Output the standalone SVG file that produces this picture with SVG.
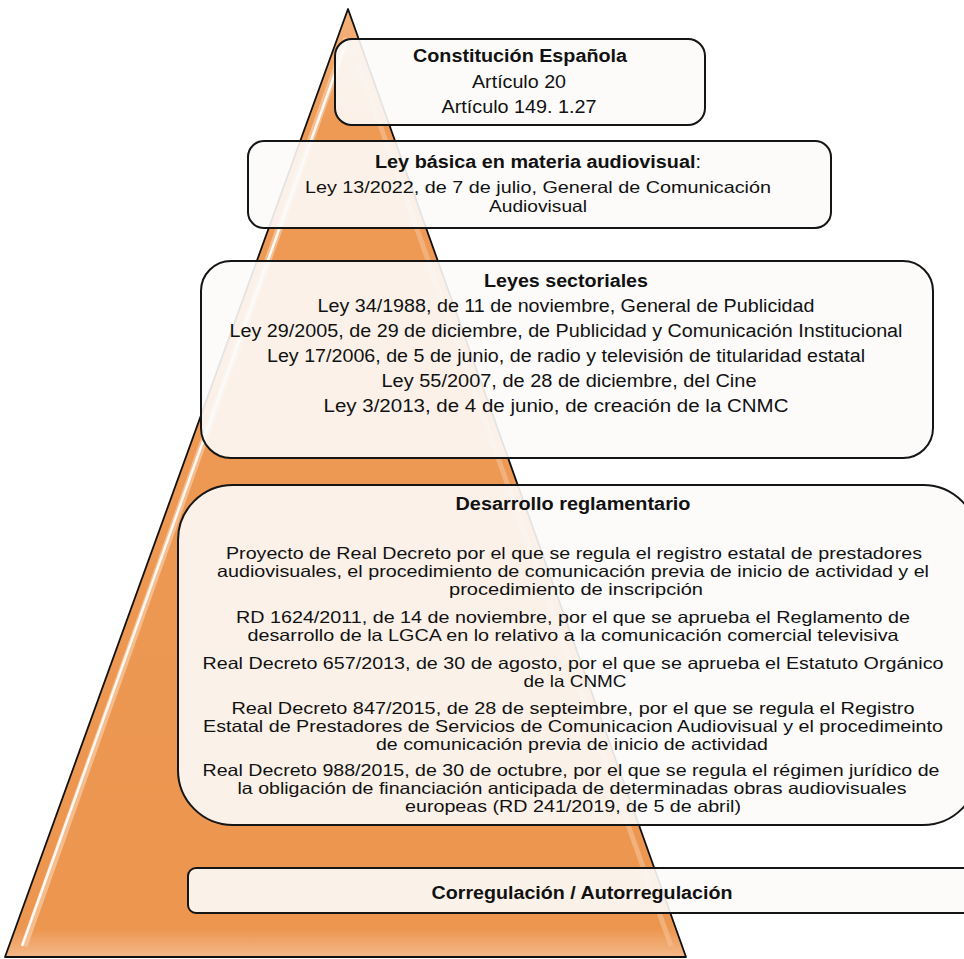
<svg xmlns="http://www.w3.org/2000/svg" width="964" height="959" viewBox="0 0 964 959">
<defs>
<linearGradient id="tri" x1="0" y1="0" x2="0" y2="1">
<stop offset="0" stop-color="#F4B27C"/>
<stop offset="0.12" stop-color="#EE9A55"/>
<stop offset="0.97" stop-color="#EC9650"/>
<stop offset="1" stop-color="#F3B888"/>
</linearGradient>
<style>
.box{fill:#FCFBFA;fill-opacity:0.9;stroke:#151515;stroke-width:2}
text{font-family:"Liberation Sans",Arial,sans-serif;font-size:18px;fill:#111;text-anchor:middle}
.b{font-weight:bold}
.s{font-size:16.5px}
</style>
</defs>
<rect width="964" height="959" fill="#FFFFFF"/>
<g id="pyramid">
<polygon points="348,9 686,957 5,957" fill="url(#tri)" stroke="#111" stroke-width="1.8" stroke-linejoin="round"/>
<line x1="347" y1="38" x2="24" y2="946" stroke="#F6C79E" stroke-width="7" opacity="0.8"/>
<line x1="347" y1="40" x2="22" y2="946" stroke="#FFFFFF" stroke-width="2.5" opacity="0.9"/>
<line x1="350" y1="40" x2="671" y2="946" stroke="#F5BC8E" stroke-width="5" opacity="0.7"/>
</g>
<g id="connectors"></g>
<g id="n1">
<rect class="box" x="335" y="39" width="370" height="86" rx="17"/>
<text class="b" x="520" y="62" textLength="214" lengthAdjust="spacingAndGlyphs">Constitución Española</text>
<text x="519" y="88" textLength="94" lengthAdjust="spacingAndGlyphs">Artículo 20</text>
<text x="519" y="113" textLength="155" lengthAdjust="spacingAndGlyphs">Artículo 149. 1.27</text>
</g>
<g id="n2">
<rect class="box" x="248" y="141" width="583" height="87" rx="16"/>
<text x="538" y="168" textLength="326" lengthAdjust="spacingAndGlyphs"><tspan class="b">Ley básica en materia audiovisual</tspan>:</text>
<text class="s" x="538" y="193" textLength="466" lengthAdjust="spacingAndGlyphs">Ley 13/2022, de 7 de julio, General de Comunicación</text>
<text class="s" x="538" y="212" textLength="98" lengthAdjust="spacingAndGlyphs">Audiovisual</text>
</g>
<g id="n3">
<rect class="box" x="201" y="261" width="732" height="197" rx="30"/>
<text class="b" x="566" y="287" textLength="164" lengthAdjust="spacingAndGlyphs">Leyes sectoriales</text>
<text x="566" y="312" textLength="497" lengthAdjust="spacingAndGlyphs">Ley 34/1988, de 11 de noviembre, General de Publicidad</text>
<text x="566" y="337" textLength="673" lengthAdjust="spacingAndGlyphs">Ley 29/2005, de 29 de diciembre, de Publicidad y Comunicación Institucional</text>
<text x="566" y="362" textLength="598" lengthAdjust="spacingAndGlyphs">Ley 17/2006, de 5 de junio, de radio y televisión de titularidad estatal</text>
<text x="569" y="387" textLength="375" lengthAdjust="spacingAndGlyphs">Ley 55/2007, de 28 de diciembre, del Cine</text>
<text x="556" y="412" textLength="465" lengthAdjust="spacingAndGlyphs">Ley 3/2013, de 4 de junio, de creación de la CNMC</text>
</g>
<g id="n4">
<rect class="box" x="178" y="485" width="800" height="340" rx="55"/>
<text class="b" x="573" y="510" textLength="235" lengthAdjust="spacingAndGlyphs">Desarrollo reglamentario</text>
<text class="s" x="574" y="559" textLength="696" lengthAdjust="spacingAndGlyphs">Proyecto de Real Decreto por el que se regula el registro estatal de prestadores</text>
<text class="s" x="573" y="577" textLength="712" lengthAdjust="spacingAndGlyphs">audiovisuales, el procedimiento de comunicación previa de inicio de actividad y el</text>
<text class="s" x="576" y="595" textLength="254" lengthAdjust="spacingAndGlyphs">procedimiento de inscripción</text>
<text class="s" x="573" y="623" textLength="674" lengthAdjust="spacingAndGlyphs">RD 1624/2011, de 14 de noviembre, por el que se aprueba el Reglamento de</text>
<text class="s" x="573" y="641" textLength="651" lengthAdjust="spacingAndGlyphs">desarrollo de la LGCA en lo relativo a la comunicación comercial televisiva</text>
<text class="s" x="573" y="669" textLength="741" lengthAdjust="spacingAndGlyphs">Real Decreto 657/2013, de 30 de agosto, por el que se aprueba el Estatuto Orgánico</text>
<text class="s" x="575" y="687" textLength="103" lengthAdjust="spacingAndGlyphs">de la CNMC</text>
<text class="s" x="573" y="714" textLength="683" lengthAdjust="spacingAndGlyphs">Real Decreto 847/2015, de 28 de septeimbre, por el que se regula el Registro</text>
<text class="s" x="573" y="732" textLength="740" lengthAdjust="spacingAndGlyphs">Estatal de Prestadores de Servicios de Comunicacion Audiovisual  y el procedimeinto</text>
<text class="s" x="572" y="750" textLength="392" lengthAdjust="spacingAndGlyphs">de comunicación previa de inicio de actividad</text>
<text class="s" x="571" y="776" textLength="737" lengthAdjust="spacingAndGlyphs">Real Decreto 988/2015, de 30 de octubre, por el que se regula el régimen jurídico de</text>
<text class="s" x="572" y="794" textLength="669" lengthAdjust="spacingAndGlyphs">la obligación de financiación anticipada de determinadas obras audiovisuales</text>
<text class="s" x="573" y="812" textLength="336" lengthAdjust="spacingAndGlyphs">europeas (RD 241/2019, de 5 de abril)</text>
</g>
<g id="n5">
<rect class="box" x="188" y="868" width="800" height="45" rx="8"/>
<text class="b" x="582" y="899" textLength="301" lengthAdjust="spacingAndGlyphs">Corregulación / Autorregulación</text>
</g>
</svg>
